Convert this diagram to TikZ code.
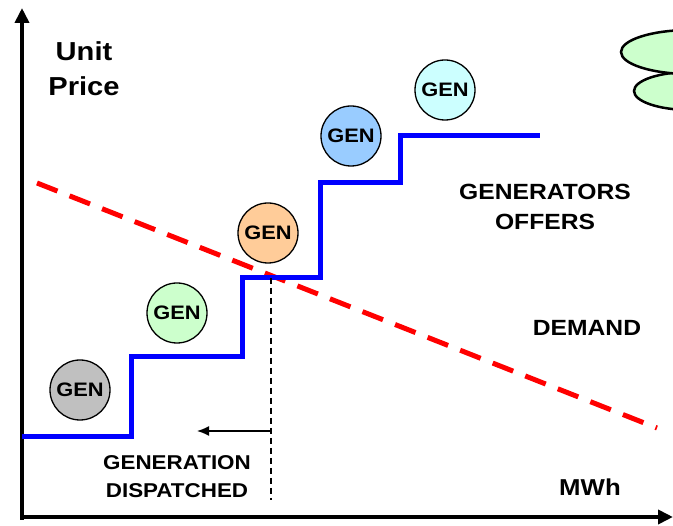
\documentclass[tikz,border=0pt]{standalone}
\usepackage{fontspec}
\setmainfont[FakeStretch=1.12]{Liberation Sans}
\usetikzlibrary{arrows.meta}
\definecolor{gengray}{HTML}{C0C0C0}
\definecolor{gengreen}{HTML}{CCFFCC}
\definecolor{genpeach}{HTML}{FFCC99}
\definecolor{genblue}{HTML}{99CCFF}
\definecolor{gencyan}{HTML}{CCFFFF}
\tikzset{
  gen/.style={circle,draw,line width=1.3pt,minimum size=60pt,inner sep=0pt,
    font=\fontsize{19.5}{20}\selectfont\bfseries},
  lbl/.style={align=center,font=\fontsize{22}{30}\selectfont\bfseries},
  offers/.style={blue,line width=5pt},
  demand/.style={red,line width=5pt,dash pattern=on 22pt off 13pt}
}
\begin{document}
\begin{tikzpicture}[x=1pt,y=-1pt,>=Latex]
  \useasboundingbox (0,0) rectangle (673,526);
  % cloud at top right
  \draw[line width=2.5pt,fill=gengreen] (690,91) ellipse (56 and 19);
  \draw[line width=2.5pt,fill=gengreen] (690,52) ellipse (69 and 22);
  % axes
  \draw[line width=4.5pt,-{Triangle[length=15pt,width=14pt]}] (22,520) -- (22,8);
  \draw[line width=4.5pt,-{Triangle[length=15pt,width=14pt]}] (20,517) -- (673,517);
  \node[lbl,font=\fontsize{26}{35}\selectfont\bfseries] (price) at (84,69) {Unit\\Price};
  \node[lbl,font=\fontsize{23}{23}\selectfont\bfseries] (mwh) at (590,487) {MWh};
  % demand line
  \draw[demand] (37,183) -- (657,428);
  % generators offers staircase
  \draw[offers] (22,437) -- (131,437) -- (131,357) -- (242,357) -- (242,278)
    -- (320,278) -- (320,183) -- (400,183) -- (400,136) -- (540,136);
  \node[gen,fill=gengray]  (g1) at (80,390)  {GEN};
  \node[gen,fill=gengreen] (g2) at (177,313) {GEN};
  \node[gen,fill=genpeach] (g3) at (268,233) {GEN};
  \node[gen,fill=genblue]  (g4) at (351,136) {GEN};
  \node[gen,fill=gencyan]  (g5) at (445,90)  {GEN};
  \node[lbl] (offerlbl) at (545,207) {GENERATORS\\OFFERS};
  \node[lbl] (demandlbl) at (587,328) {DEMAND};
  % dispatched quantity
  \coordinate (cross) at (271,278);
  \coordinate (foot) at (271,500);
  \coordinate (tip) at (197,431);
  \draw[line width=1.2pt,dash pattern=on 6pt off 4pt] (cross) -- (foot);
  \draw[line width=1.5pt,-{Latex[length=12pt,width=10pt]}] (cross |- tip) -- (tip);
  \node[lbl,font=\fontsize{20}{28}\selectfont\bfseries] (displbl) at (177,477) {GENERATION\\DISPATCHED};
\end{tikzpicture}
\end{document}
